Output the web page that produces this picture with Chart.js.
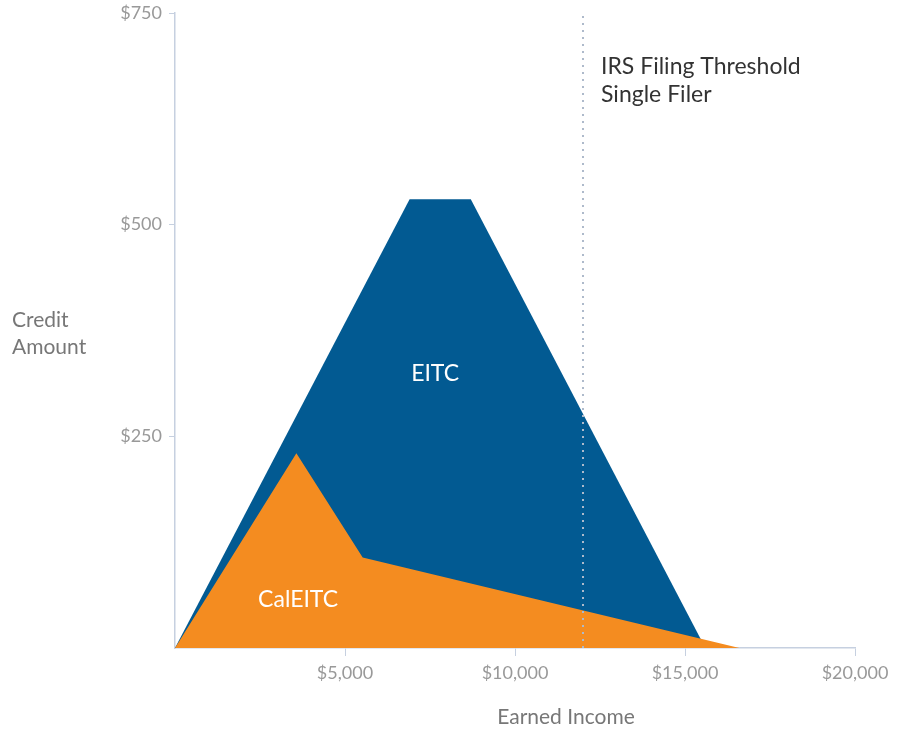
<!DOCTYPE html>
<html lang="en">
<head>
  <meta charset="UTF-8">
  <title>EITC and CalEITC</title>
  <script src="https://cdn.jsdelivr.net/npm/chart.js"></script>
  <style>
    html, body { margin: 0; padding: 0; background: #fff; }
    canvas { display: block; }
  </style>
</head>
<body>
  <canvas id="chart" width="897" height="730"></canvas>

  <script>
    // data
    const eitcIncome = [0, 6900, 8700, 15600];
    const eitcCredit = [0, 530, 530, 0];
    const calIncome = [0, 3570, 5520, 16600];
    const calCredit = [0, 230, 107, 0];
    const thresholdIncome = 12000;
    const creditRange = [0, 750];
    const incomeRange = [0, 20000];

    const FONT = 'Lato, "Open Sans", sans-serif';
    const BLUE = '#025a92';
    const ORANGE = '#f48c20';
    const AXIS = '#c6d0e0';

    const toPoints = (xs, ys) => xs.map((x, i) => ({ x: x, y: ys[i] }));

    // text labels drawn over the areas
    const labels = {
      id: 'labels',
      afterDatasetsDraw(chart) {
        const ctx = chart.ctx;
        const x = chart.scales.x;
        const y = chart.scales.y;
        ctx.save();
        ctx.textBaseline = 'middle';

        ctx.fillStyle = '#fff';
        ctx.textAlign = 'center';
        ctx.font = '23px ' + FONT;
        ctx.fillText('EITC', x.getPixelForValue(7650), y.getPixelForValue(324));
        ctx.fillText('CalEITC', x.getPixelForValue(3620), y.getPixelForValue(57));

        ctx.fillStyle = '#333';
        ctx.textAlign = 'left';
        ctx.font = '23px ' + FONT;
        const tx = x.getPixelForValue(thresholdIncome) + 18;
        ctx.fillText('IRS Filing Threshold', tx, 67);
        ctx.fillText('Single Filer', tx, 95);

        ctx.fillStyle = '#777';
        ctx.font = '21px ' + FONT;
        ctx.fillText('Credit', 12, 320);
        ctx.fillText('Amount', 12, 347);
        ctx.textAlign = 'center';
        ctx.fillText('Earned Income', 566, 717);
        ctx.restore();
      }
    };

    new Chart(document.getElementById('chart'), {
      type: 'line',
      data: {
        datasets: [
          {
            label: 'IRS Filing Threshold',
            data: toPoints([thresholdIncome, thresholdIncome], creditRange),
            borderColor: '#aebacb',
            borderWidth: 2,
            borderDash: [2, 5],
            pointRadius: 0,
            fill: false
          },
          {
            label: 'CalEITC',
            data: toPoints(calIncome, calCredit),
            backgroundColor: ORANGE,
            borderWidth: 0,
            pointRadius: 0,
            fill: 'origin'
          },
          {
            label: 'EITC',
            data: toPoints(eitcIncome, eitcCredit),
            backgroundColor: BLUE,
            borderWidth: 0,
            pointRadius: 0,
            fill: 'origin'
          }
        ]
      },
      options: {
        responsive: false,
        devicePixelRatio: 1,
        animation: false,
        layout: { padding: { top: 13, right: 42, left: 0, bottom: 0 } },
        plugins: {
          legend: { display: false },
          tooltip: { enabled: false }
        },
        scales: {
          x: {
            type: 'linear',
            min: incomeRange[0],
            max: incomeRange[1],
            afterFit: (s) => {
              s.height = 82;
              s.paddingLeft = 0;
              s.paddingRight = 0;
            },
            border: { color: AXIS, width: 1.5 },
            grid: {
              drawOnChartArea: false,
              tickLength: 8,
              color: (c) => c.tick && c.tick.value === 0 ? 'transparent' : AXIS
            },
            ticks: {
              stepSize: 5000,
              padding: 6,
              color: '#999',
              font: { family: FONT, size: 18 },
              maxRotation: 0,
              callback: (v) => v === 0 ? '' : '$' + v.toLocaleString('en-US')
            }
          },
          y: {
            min: creditRange[0],
            max: creditRange[1],
            afterFit: (s) => {
              s.width = 175;
              s.paddingTop = 0;
              s.paddingBottom = 0;
            },
            border: { color: AXIS, width: 1.5 },
            grid: {
              drawOnChartArea: false,
              tickLength: 6,
              color: (c) => c.tick && c.tick.value === 0 ? 'transparent' : AXIS
            },
            ticks: {
              stepSize: 250,
              padding: 7,
              color: '#999',
              font: { family: FONT, size: 18 },
              callback: (v) => v === 0 ? '' : '$' + v
            }
          }
        }
      },
      plugins: [labels]
    });
  </script>
</body>
</html>
